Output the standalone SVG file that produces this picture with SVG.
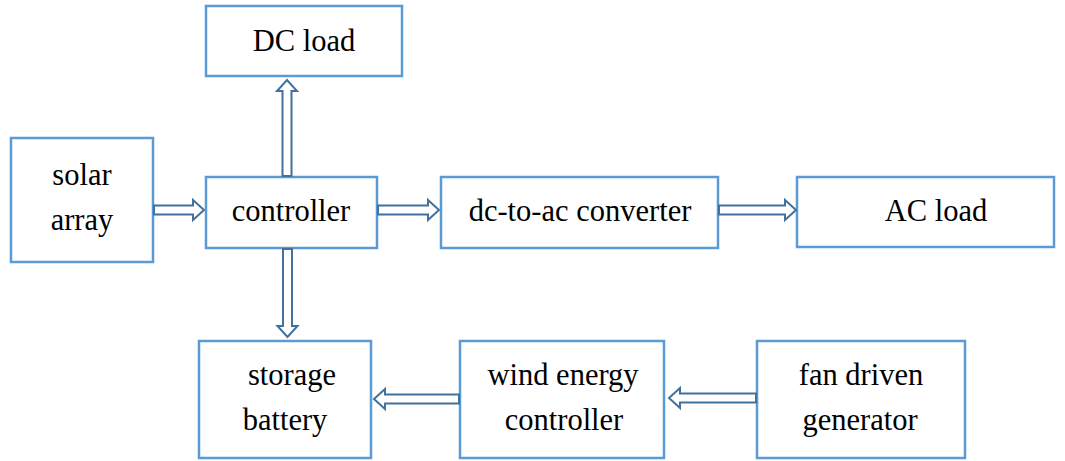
<svg xmlns="http://www.w3.org/2000/svg" width="1065" height="461" viewBox="0 0 1065 461">
<style>
.box{fill:#fff;stroke:#5b9bd5;stroke-width:2.5}
.t{font-size:30.5px;fill:#000;text-anchor:middle}
.arr{fill:#fff;stroke:#41719c;stroke-width:2;stroke-linejoin:miter}
</style>
<rect width="1065" height="461" fill="#fff"/>
<g font-family="'Liberation Serif', 'Times New Roman', serif">
<g id="dc-load"><rect class="box" x="206" y="6" width="196" height="70"/><text class="t" x="304" y="51">DC load</text></g>
<g id="solar-array"><rect class="box" x="11" y="138" width="142" height="124"/><text class="t" x="82" y="185">solar</text><text class="t" x="82" y="230">array</text></g>
<g id="controller"><rect class="box" x="206" y="177" width="171" height="71"/><text class="t" x="291" y="221">controller</text></g>
<g id="dc-ac-converter"><rect class="box" x="441" y="177" width="277" height="71"/><text class="t" x="580" y="221">dc-to-ac converter</text></g>
<g id="ac-load"><rect class="box" x="797" y="177" width="257" height="70"/><text class="t" x="936" y="221">AC load</text></g>
<g id="storage-battery"><rect class="box" x="199" y="341" width="172" height="117"/><text class="t" x="292" y="385">storage</text><text class="t" x="285" y="430">battery</text></g>
<g id="wind-energy-controller"><rect class="box" x="460" y="341" width="204" height="117"/><text class="t" x="563" y="385">wind energy</text><text class="t" x="564" y="430">controller</text></g>
<g id="fan-driven-generator"><rect class="box" x="757" y="341" width="208" height="117"/><text class="t" x="861" y="385">fan driven</text><text class="t" x="860" y="430">generator</text></g>
</g>
<g id="connectors">
<path class="arr" d="M154,205.5 H193 V200 L204,210 L193,220 V214.5 H154 Z"/>
<path class="arr" d="M378,205.5 H428 V200 L439,210 L428,220 V214.5 H378 Z"/>
<path class="arr" d="M719,205.5 H785 V200 L796,210 L785,220 V214.5 H719 Z"/>
<path class="arr" d="M282.5,176 V91 H277 L287,80 L297,91 H291.5 V176 Z"/>
<path class="arr" d="M283,249 V326 H277.5 L287.5,337 L297.5,326 H292 V249 Z"/>
<path class="arr" d="M459,394.5 H385 V389 L374,399 L385,409 V403.5 H459 Z"/>
<path class="arr" d="M756,393.5 H680 V388 L669,398 L680,408 V402.5 H756 Z"/>
</g>
</svg>
